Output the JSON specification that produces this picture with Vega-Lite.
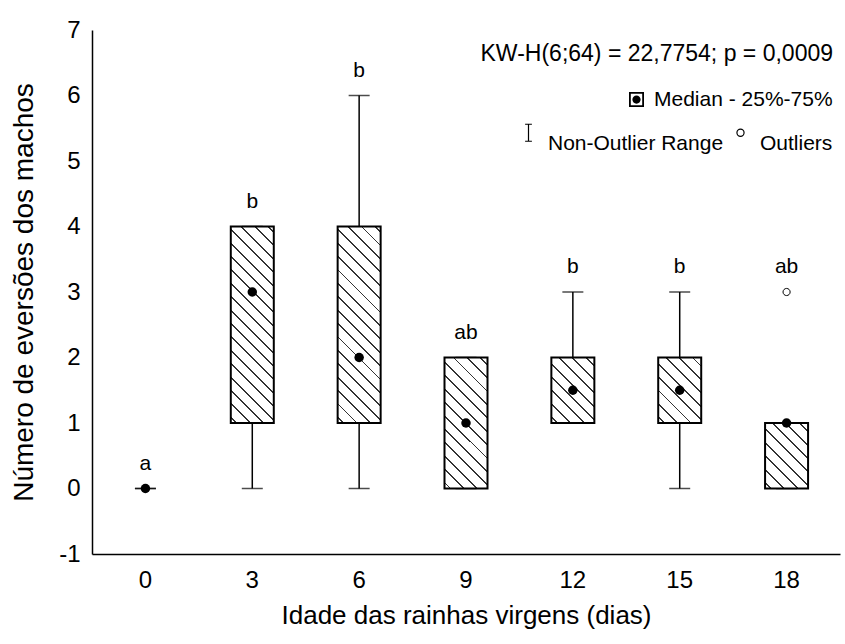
{
  "$schema": "https://vega.github.io/schema/vega-lite/v6.json",
  "width": 748,
  "height": 524,
  "autosize": "none",
  "padding": {"left": 92, "top": 30, "right": 5, "bottom": 90},
  "background": "white",
  "config": {
    "font": "Liberation Sans",
    "view": {"stroke": null},
    "axis": {"domainColor": "black", "domainWidth": 1.5, "ticks": false, "grid": false, "labelColor": "black", "titleColor": "black", "labelFont": "Liberation Sans", "titleFont": "Liberation Sans", "titleFontWeight": "normal", "labelFontSize": 24, "titleFontSize": 26},
    "legend": {"labelFont": "Liberation Sans", "titleFont": "Liberation Sans", "labelColor": "black", "titleColor": "black", "titleFontWeight": "normal", "padding": 0, "labelLimit": 1000, "titleLimit": 1000,
      "layout": {"top-right": {"direction": "vertical", "anchor": "end", "margin": 12}}}
  },
  "datasets": {
    "stats": [
      {"age": "0", "lo": 0, "q1": 0, "med": 0, "q3": 0, "hi": 0, "max": 0, "letter": "a"},
      {"age": "3", "lo": 0, "q1": 1, "med": 3, "q3": 4, "hi": 4, "max": 4, "letter": "b"},
      {"age": "6", "lo": 0, "q1": 1, "med": 2, "q3": 4, "hi": 6, "max": 6, "letter": "b"},
      {"age": "9", "lo": 0, "q1": 0, "med": 1, "q3": 2, "hi": 2, "max": 2, "letter": "ab"},
      {"age": "12", "lo": 1, "q1": 1, "med": 1.5, "q3": 2, "hi": 3, "max": 3, "letter": "b"},
      {"age": "15", "lo": 0, "q1": 1, "med": 1.5, "q3": 2, "hi": 3, "max": 3, "letter": "b"},
      {"age": "18", "lo": 0, "q1": 0, "med": 1, "q3": 1, "hi": 1, "max": 3, "letter": "ab"}
    ],
    "outliers": [
      {"age": "18", "value": 3}
    ]
  },
  "encoding": {
    "x": {"field": "age", "type": "nominal", "sort": ["0", "3", "6", "9", "12", "15", "18"], "title": "Idade das rainhas virgens (dias)",
      "scale": {"type": "band", "paddingInner": 0, "paddingOuter": 0},
      "axis": {"labelAngle": 0, "labelPadding": 14, "titlePadding": 10}}
  },
  "layer": [
    {
      "data": {"name": "stats"},
      "mark": {"type": "rule", "color": "black", "strokeWidth": 1.5},
      "encoding": {
        "y": {"field": "lo", "type": "quantitative", "title": "Número de eversões dos machos",
          "scale": {"domain": [-1, 7], "nice": false, "zero": false},
          "axis": {"values": [-1, 0, 1, 2, 3, 4, 5, 6, 7], "labelExpr": "'' + datum.value", "labelPadding": 12, "titlePadding": 20, "titleFontSize": 28}},
        "y2": {"field": "hi"}
      }
    },
    {
      "data": {"name": "stats"},
      "mark": {"type": "tick", "color": "black", "thickness": 1.5, "size": 21, "orient": "horizontal"},
      "encoding": {"y": {"field": "lo", "type": "quantitative", "title": "Número de eversões dos machos"}}
    },
    {
      "data": {"name": "stats"},
      "mark": {"type": "tick", "color": "black", "thickness": 1.5, "size": 21, "orient": "horizontal"},
      "encoding": {"y": {"field": "hi", "type": "quantitative", "title": "Número de eversões dos machos"}}
    },
    {
      "data": {"name": "stats"},
      "transform": [{"filter": "datum.q3 - datum.q1 == 1"}],
      "mark": {"type": "bar", "size": 43, "stroke": "black", "strokeWidth": 2,
        "fill": {"gradient": "linear", "x1": 0, "y1": 1, "x2": 0.7599, "y2": -0.1576, "stops": [
          {"offset": 0, "color": "white"},
          {"offset": 0.04608, "color": "white"}, {"offset": 0.04608, "color": "#333333"}, {"offset": 0.06359, "color": "#333333"}, {"offset": 0.06359, "color": "white"},
          {"offset": 0.16959, "color": "white"}, {"offset": 0.16959, "color": "#333333"}, {"offset": 0.18710, "color": "#333333"}, {"offset": 0.18710, "color": "white"},
          {"offset": 0.29309, "color": "white"}, {"offset": 0.29309, "color": "#333333"}, {"offset": 0.31060, "color": "#333333"}, {"offset": 0.31060, "color": "white"},
          {"offset": 0.41659, "color": "white"}, {"offset": 0.41659, "color": "#333333"}, {"offset": 0.43410, "color": "#333333"}, {"offset": 0.43410, "color": "white"},
          {"offset": 0.54009, "color": "white"}, {"offset": 0.54009, "color": "#333333"}, {"offset": 0.55760, "color": "#333333"}, {"offset": 0.55760, "color": "white"},
          {"offset": 0.66359, "color": "white"}, {"offset": 0.66359, "color": "#333333"}, {"offset": 0.68111, "color": "#333333"}, {"offset": 0.68111, "color": "white"},
          {"offset": 0.78710, "color": "white"}, {"offset": 0.78710, "color": "#333333"}, {"offset": 0.80461, "color": "#333333"}, {"offset": 0.80461, "color": "white"},
          {"offset": 0.91060, "color": "white"}, {"offset": 0.91060, "color": "#333333"}, {"offset": 0.92811, "color": "#333333"}, {"offset": 0.92811, "color": "white"},
          {"offset": 1, "color": "white"}
        ]}},
      "encoding": {"y": {"field": "q1", "type": "quantitative", "title": "Número de eversões dos machos"}, "y2": {"field": "q3"}}
    },
    {
      "data": {"name": "stats"},
      "transform": [{"filter": "datum.q3 - datum.q1 == 2"}],
      "mark": {"type": "bar", "size": 43, "stroke": "black", "strokeWidth": 2,
        "fill": {"gradient": "linear", "x1": 0, "y1": 1, "x2": 0.39358, "y2": -0.19906, "stops": [
          {"offset": 0, "color": "white"},
          {"offset": 0.02874, "color": "white"}, {"offset": 0.02874, "color": "#333333"}, {"offset": 0.03966, "color": "#333333"}, {"offset": 0.03966, "color": "white"},
          {"offset": 0.10575, "color": "white"}, {"offset": 0.10575, "color": "#333333"}, {"offset": 0.11667, "color": "#333333"}, {"offset": 0.11667, "color": "white"},
          {"offset": 0.18276, "color": "white"}, {"offset": 0.18276, "color": "#333333"}, {"offset": 0.19368, "color": "#333333"}, {"offset": 0.19368, "color": "white"},
          {"offset": 0.25977, "color": "white"}, {"offset": 0.25977, "color": "#333333"}, {"offset": 0.27069, "color": "#333333"}, {"offset": 0.27069, "color": "white"},
          {"offset": 0.33678, "color": "white"}, {"offset": 0.33678, "color": "#333333"}, {"offset": 0.34770, "color": "#333333"}, {"offset": 0.34770, "color": "white"},
          {"offset": 0.41379, "color": "white"}, {"offset": 0.41379, "color": "#333333"}, {"offset": 0.42471, "color": "#333333"}, {"offset": 0.42471, "color": "white"},
          {"offset": 0.49080, "color": "white"}, {"offset": 0.49080, "color": "#333333"}, {"offset": 0.50172, "color": "#333333"}, {"offset": 0.50172, "color": "white"},
          {"offset": 0.56782, "color": "white"}, {"offset": 0.56782, "color": "#333333"}, {"offset": 0.57874, "color": "#333333"}, {"offset": 0.57874, "color": "white"},
          {"offset": 0.64483, "color": "white"}, {"offset": 0.64483, "color": "#333333"}, {"offset": 0.65575, "color": "#333333"}, {"offset": 0.65575, "color": "white"},
          {"offset": 0.72184, "color": "white"}, {"offset": 0.72184, "color": "#333333"}, {"offset": 0.73276, "color": "#333333"}, {"offset": 0.73276, "color": "white"},
          {"offset": 0.79885, "color": "white"}, {"offset": 0.79885, "color": "#333333"}, {"offset": 0.80977, "color": "#333333"}, {"offset": 0.80977, "color": "white"},
          {"offset": 0.87586, "color": "white"}, {"offset": 0.87586, "color": "#333333"}, {"offset": 0.88678, "color": "#333333"}, {"offset": 0.88678, "color": "white"},
          {"offset": 0.95287, "color": "white"}, {"offset": 0.95287, "color": "#333333"}, {"offset": 0.96379, "color": "#333333"}, {"offset": 0.96379, "color": "white"},
          {"offset": 1, "color": "white"}
        ]}},
      "encoding": {"y": {"field": "q1", "type": "quantitative", "title": "Número de eversões dos machos"}, "y2": {"field": "q3"}}
    },
    {
      "data": {"name": "stats"},
      "transform": [{"filter": "datum.q3 - datum.q1 == 3"}],
      "mark": {"type": "bar", "size": 43, "stroke": "black", "strokeWidth": 2,
        "fill": {"gradient": "linear", "x1": 0, "y1": 1, "x2": 0.25453, "y2": -0.16312, "stops": [
          {"offset": 0, "color": "white"},
          {"offset": 0.02088, "color": "white"}, {"offset": 0.02088, "color": "#333333"}, {"offset": 0.02881, "color": "#333333"}, {"offset": 0.02881, "color": "white"},
          {"offset": 0.07683, "color": "white"}, {"offset": 0.07683, "color": "#333333"}, {"offset": 0.08476, "color": "#333333"}, {"offset": 0.08476, "color": "white"},
          {"offset": 0.13278, "color": "white"}, {"offset": 0.13278, "color": "#333333"}, {"offset": 0.14071, "color": "#333333"}, {"offset": 0.14071, "color": "white"},
          {"offset": 0.18873, "color": "white"}, {"offset": 0.18873, "color": "#333333"}, {"offset": 0.19666, "color": "#333333"}, {"offset": 0.19666, "color": "white"},
          {"offset": 0.24468, "color": "white"}, {"offset": 0.24468, "color": "#333333"}, {"offset": 0.25261, "color": "#333333"}, {"offset": 0.25261, "color": "white"},
          {"offset": 0.30063, "color": "white"}, {"offset": 0.30063, "color": "#333333"}, {"offset": 0.30856, "color": "#333333"}, {"offset": 0.30856, "color": "white"},
          {"offset": 0.35658, "color": "white"}, {"offset": 0.35658, "color": "#333333"}, {"offset": 0.36451, "color": "#333333"}, {"offset": 0.36451, "color": "white"},
          {"offset": 0.41253, "color": "white"}, {"offset": 0.41253, "color": "#333333"}, {"offset": 0.42046, "color": "#333333"}, {"offset": 0.42046, "color": "white"},
          {"offset": 0.46848, "color": "white"}, {"offset": 0.46848, "color": "#333333"}, {"offset": 0.47641, "color": "#333333"}, {"offset": 0.47641, "color": "white"},
          {"offset": 0.52443, "color": "white"}, {"offset": 0.52443, "color": "#333333"}, {"offset": 0.53236, "color": "#333333"}, {"offset": 0.53236, "color": "white"},
          {"offset": 0.58038, "color": "white"}, {"offset": 0.58038, "color": "#333333"}, {"offset": 0.58831, "color": "#333333"}, {"offset": 0.58831, "color": "white"},
          {"offset": 0.63633, "color": "white"}, {"offset": 0.63633, "color": "#333333"}, {"offset": 0.64426, "color": "#333333"}, {"offset": 0.64426, "color": "white"},
          {"offset": 0.69228, "color": "white"}, {"offset": 0.69228, "color": "#333333"}, {"offset": 0.70021, "color": "#333333"}, {"offset": 0.70021, "color": "white"},
          {"offset": 0.74823, "color": "white"}, {"offset": 0.74823, "color": "#333333"}, {"offset": 0.75616, "color": "#333333"}, {"offset": 0.75616, "color": "white"},
          {"offset": 0.80418, "color": "white"}, {"offset": 0.80418, "color": "#333333"}, {"offset": 0.81211, "color": "#333333"}, {"offset": 0.81211, "color": "white"},
          {"offset": 0.86013, "color": "white"}, {"offset": 0.86013, "color": "#333333"}, {"offset": 0.86806, "color": "#333333"}, {"offset": 0.86806, "color": "white"},
          {"offset": 0.91608, "color": "white"}, {"offset": 0.91608, "color": "#333333"}, {"offset": 0.92401, "color": "#333333"}, {"offset": 0.92401, "color": "white"},
          {"offset": 0.97203, "color": "white"}, {"offset": 0.97203, "color": "#333333"}, {"offset": 0.97996, "color": "#333333"}, {"offset": 0.97996, "color": "white"},
          {"offset": 1, "color": "white"}
        ]}},
      "encoding": {"y": {"field": "q1", "type": "quantitative", "title": "Número de eversões dos machos"}, "y2": {"field": "q3"}}
    },
    {
      "data": {"name": "stats"},
      "mark": {"type": "point", "filled": true, "size": 90, "shape": "circle", "opacity": 1},
      "encoding": {
        "y": {"field": "med", "type": "quantitative", "title": "Número de eversões dos machos"},
        "fill": {"datum": "Median - 25%-75%", "type": "nominal",
          "scale": {"domain": ["Median - 25%-75%"], "range": ["black"]},
          "legend": {"title": "KW-H(6;64) = 22,7754; p = 0,0009", "orient": "top-right", "offset": 7,
            "titleFontSize": 23, "titleBaseline": "line-top", "titleLineHeight": 35, "titleAnchor": "end", "titlePadding": 29,
            "symbolType": "M-1,-1H1V1H-1ZM-0.76,-0.76V0.76H0.76V-0.76ZM-0.55,0A0.55,0.55 0 1,0 0.55,0A0.55,0.55 0 1,0 -0.55,0Z",
            "symbolSize": 225, "symbolStrokeWidth": 0, "symbolOpacity": 1, "symbolFillColor": "black",
            "labelFontSize": 21, "labelOffset": 7, "symbolOffset": 152}}
      }
    },
    {
      "data": {"name": "outliers"},
      "mark": {"type": "point", "filled": false, "size": 289, "color": "black", "strokeWidth": 1, "opacity": 1},
      "encoding": {
        "y": {"field": "value", "type": "quantitative", "title": "Número de eversões dos machos"},
        "shape": {"datum": "Outliers", "type": "nominal",
          "scale": {"domain": ["Non-Outlier Range", "Outliers"], "range": ["M-0.4,-1H0.4M0,-1V1M-0.4,1H0.4", "M-0.42,0A0.42,0.42 0 1,0 0.42,0A0.42,0.42 0 1,0 -0.42,0Z"]},
          "legend": {"title": ".", "titleOrient": "left", "titleFontSize": 1, "titleColor": "white", "titlePadding": 43, "orient": "top-right", "offset": 7, "direction": "horizontal",
            "symbolSize": 289, "symbolStrokeColor": "black", "symbolStrokeWidth": 1.2, "symbolFillColor": "transparent", "symbolOpacity": 1,
            "labelFontSize": 21, "labelOffset": 9, "labelBaseline": "top", "columnPadding": 6}}
      }
    },
    {
      "data": {"name": "stats"},
      "mark": {"type": "text", "fontSize": 21, "dy": -25, "baseline": "middle", "color": "black"},
      "encoding": {
        "y": {"field": "max", "type": "quantitative", "title": "Número de eversões dos machos"},
        "text": {"field": "letter"}
      }
    }
  ]
}
